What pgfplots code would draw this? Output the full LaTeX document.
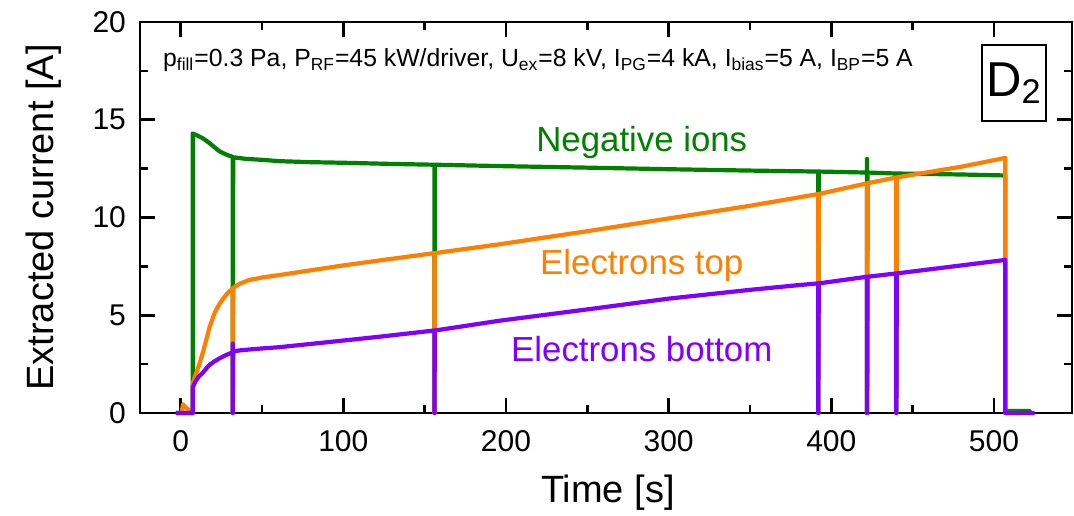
\documentclass[border=0pt]{standalone}
\usepackage{fontspec}
\setmainfont{Liberation Sans}
\usepackage{pgfplots}
\pgfplotsset{compat=1.18}
\definecolor{cgreen}{RGB}{0,128,0}
\definecolor{corange}{RGB}{255,128,0}
\definecolor{cpurple}{RGB}{128,0,255}
\begin{document}
\begin{tikzpicture}
\useasboundingbox (-70pt,-51pt) rectangle (467pt,206.5pt);
\begin{axis}[at={(0,0)}, anchor=south west, scale only axis,
  width=466pt, height=195.5pt,
  xmin=-25, xmax=548, ymin=0, ymax=20,
  xtick={0,100,...,500}, minor xtick={50,150,250,350,450},
  ytick={0,5,...,20}, minor ytick={2.5,7.5,12.5,17.5},
  tick align=inside, major tick length=7.5pt, minor tick length=4pt,
  axis line style={line width=1.3pt},
  every tick/.style={black, line width=1.3pt},
  tick label style={font=\fontsize{15}{18}\selectfont},
  yticklabel style={xshift=-3.5pt},
  xticklabel style={yshift=-5pt},
  /pgf/number format/assume math mode=true,
  xlabel={Time [s]}, ylabel={Extracted current [A]},
  every axis x label/.style={at={([yshift=-44.5pt]axis description cs:0.502,0)}, anchor=base, font=\fontsize{19}{23}\selectfont},
  every axis y label/.style={at={([xshift=-43pt]axis description cs:0,0.5)}, rotate=90, anchor=base, font=\fontsize{19}{23}\selectfont},
  clip=false,
  every axis plot/.append style={line width=2.1pt, line join=round},
]
% Negative ions
\addplot[cgreen] coordinates {
(-3,0) (7.4,0) (7.4,14.3) (10,14.2) (13.7,14.05) (17.8,13.8) (21,13.58) (24,13.38) (28,13.22) (32,13.1)
(32,0) (32.3,13.08) (40,13.0) (50,12.95) (61,12.88) (80,12.83) (100,12.8) (130,12.74) (156,12.7)
(156,0) (156.3,12.7) (196,12.63) (250,12.55) (300,12.47) (350,12.4) (392,12.35)
(392,0) (392.3,12.35) (422,12.3) (422,13.0) (422,0) (422.3,12.3) (440,12.25)
(440,0) (440.3,12.25) (480,12.2) (507,12.15) (507,0.1) (522,0.1) (522,0)
};
% Electrons top
\addplot[corange] coordinates {
(-3,0) (0.5,0) (1.5,0.45) (3,0.3) (5,0.15) (7,0) (7.4,0) (7.4,1.5) (9,1.9) (11.7,2.55) (14,3.2)
(17.8,4.4) (21,5.15) (24,5.6) (28,6.05) (32,6.38)
(32,0) (32.3,6.4) (36,6.6) (42,6.8) (50,6.93) (61,7.06) (80,7.3) (100,7.55) (122,7.8) (140,8.0) (156,8.18)
(156,0) (156.3,8.18) (196,8.63) (250,9.3) (300,9.95) (350,10.6) (392,11.2)
(392,0) (392.3,11.2) (422,11.75) (422,0) (422.3,11.75) (440,12.05)
(440,0) (440.3,12.05) (480,12.6) (507,13.05) (507,0) (515,0)
};
% Electrons bottom
\addplot[cpurple] coordinates {
(-3,0) (7.4,0) (7.4,1.3) (9,1.6) (11,1.85) (13.5,2.05) (17,2.4) (20,2.6) (24,2.8) (28,2.97) (32,3.1)
(32,3.55) (32,0) (32.3,3.15) (36,3.2) (45,3.27) (61,3.37) (90,3.62) (122,3.9) (156,4.22)
(156,0) (156.3,4.22) (196,4.72) (250,5.3) (300,5.85) (350,6.3) (381,6.55) (392,6.63)
(392,0) (392.3,6.63) (422,6.97) (422,0) (422.3,6.97) (440,7.14)
(440,0) (440.3,7.14) (480,7.55) (507,7.83) (507,0) (525,0)
};
\node[text=cgreen, anchor=base, font=\fontsize{17.4}{20}\selectfont] at (axis cs:283.5,13.4) {Negative ions};
\node[text=corange, anchor=base, font=\fontsize{17.4}{20}\selectfont] at (axis cs:283.5,7.11) {Electrons top};
\node[text=cpurple, anchor=base, font=\fontsize{17.4}{20}\selectfont] at (axis cs:283.5,2.61) {Electrons bottom};
\node[anchor=west, inner sep=0pt, font=\fontsize{12.4}{15}\selectfont] at (axis cs:-11,18.05)
 {p\textsubscript{fill}=0.3 Pa, P\textsubscript{RF}=45 kW/driver, U\textsubscript{ex}=8 kV, I\textsubscript{PG}=4 kA, I\textsubscript{bias}=5 A, I\textsubscript{BP}=5 A};
\node[draw, line width=0.6pt, minimum width=32pt, minimum height=38pt, inner sep=0pt, font=\fontsize{24.5}{28}\selectfont] at (axis cs:512.3,16.88) {D\textsubscript{2}};
\end{axis}
\end{tikzpicture}
\end{document}
